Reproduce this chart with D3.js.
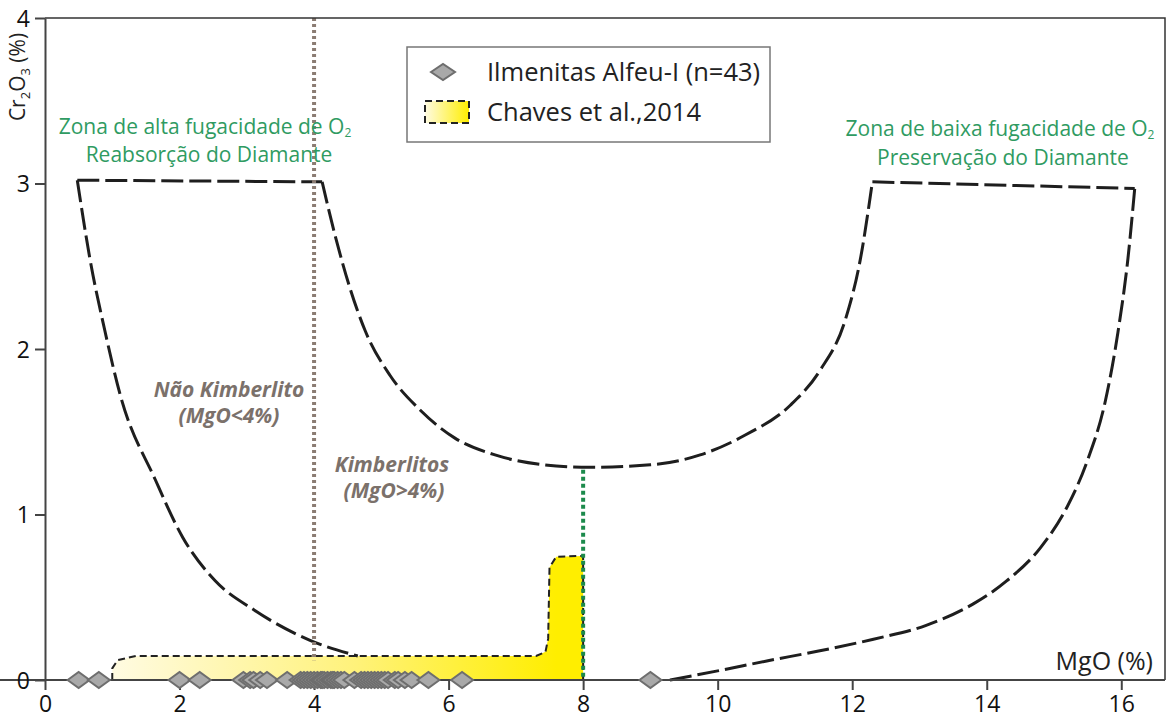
<!DOCTYPE html>
<html>
<head>
<meta charset="utf-8">
<script src="https://cdn.jsdelivr.net/npm/d3@7"></script>
<style>
  body { margin: 0; background: #fff; }
  text { font-family: "Open Sans", sans-serif; }
</style>
</head>
<body>
<div id="chart"></div>
<script>
// data (MgO %, Cr2O3 %)
var xTicks = [0, 2, 4, 6, 8, 10, 12, 14, 16];
var yTicks = [0, 1, 2, 3, 4];

var ilmenitas = [0.5, 0.8, 2.0, 2.3, 2.95, 3.05, 3.1, 3.2, 3.3, 3.6, 3.8, 3.85, 3.9, 3.95,
  4.0, 4.05, 4.1, 4.12, 4.15, 4.2, 4.25, 4.28, 4.3, 4.35, 4.4, 4.45, 4.6, 4.7, 4.75, 4.8,
  4.85, 4.9, 4.95, 5.0, 5.05, 5.1, 5.2, 5.25, 5.35, 5.45, 5.7, 6.2, 9.0];

var leftCurve = [[0.48,3.02],[0.67,2.54],[0.89,2.11],[1.12,1.72],[1.64,1.21],[2.05,0.86],
  [2.53,0.6],[3.12,0.42],[3.94,0.24],[4.65,0.145]];
var topLeft = [[0.48,3.02],[4.12,3.01]];
var uCurve = [[4.12,3.01],[4.31,2.69],[4.54,2.36],[4.76,2.11],[5.13,1.84],[5.58,1.63],
  [6.1,1.46],[6.69,1.36],[7.43,1.3],[8.1,1.285],[9.0,1.3],[9.74,1.36],[10.41,1.48],
  [11.08,1.66],[11.52,1.87],[11.9,2.18],[12.12,2.54],[12.3,3.01]];
var topRight = [[12.3,3.01],[16.2,2.97]];
var rightCurve = [[9.29,0],[10.0,0.055],[10.73,0.115],[11.5,0.175],[12.3,0.245],[13.1,0.33],
  [13.8,0.46],[14.3,0.6],[14.8,0.8],[15.2,1.05],[15.5,1.33],[15.76,1.68],[15.95,2.1],
  [16.1,2.55],[16.2,2.97]];

var chaves = [[1.0,0],[1.0,0.07],[1.08,0.12],[1.35,0.145],[7.3,0.145],[7.44,0.17],[7.48,0.25],
  [7.5,0.68],[7.6,0.745],[8.0,0.75],[8.0,0]];

var width = 1169, height = 728;
var x = d3.scaleLinear().domain([0, 16.65]).range([45, 1165]);
var y = d3.scaleLinear().domain([0, 4]).range([680, 18]);

var svg = d3.select("#chart").append("svg")
  .attr("width", width)
  .attr("height", height);

var defs = svg.append("defs");
var grad = defs.append("linearGradient")
  .attr("id", "yel")
  .attr("gradientUnits", "userSpaceOnUse")
  .attr("x1", x(1)).attr("x2", x(7.6)).attr("y1", 0).attr("y2", 0);
grad.append("stop").attr("offset", 0).attr("stop-color", "#fffbe2");
grad.append("stop").attr("offset", 0.55).attr("stop-color", "#fff27a");
grad.append("stop").attr("offset", 1).attr("stop-color", "#ffee00");

var grad2 = defs.append("linearGradient").attr("id", "yel2");
grad2.append("stop").attr("offset", 0).attr("stop-color", "#fffbe2");
grad2.append("stop").attr("offset", 1).attr("stop-color", "#ffee00");

var line = d3.line().x(function(d){return x(d[0])}).y(function(d){return y(d[1])});
var smooth = d3.line().curve(d3.curveMonotoneX)
  .x(function(d){return x(d[0])}).y(function(d){return y(d[1])});

// yellow field
svg.append("path")
  .attr("d", line(chaves) + "Z")
  .attr("fill", "url(#yel)")
  .attr("stroke", "#222")
  .attr("stroke-width", 2)
  .attr("stroke-dasharray", "7,4");

// boundary curves
[leftCurve, topLeft, uCurve, topRight, rightCurve].forEach(function(seg){
  svg.append("path")
    .attr("d", smooth(seg))
    .attr("fill", "none")
    .attr("stroke", "#1e1e1e")
    .attr("stroke-width", 3)
    .attr("stroke-dasharray", "22,6");
});

// dotted verticals
svg.append("line")
  .attr("x1", x(4)).attr("x2", x(4))
  .attr("y1", y(4)).attr("y2", y(0.12))
  .attr("stroke", "#8b7c73")
  .attr("stroke-width", 4)
  .attr("stroke-dasharray", "3,3");

svg.append("line")
  .attr("x1", x(8)).attr("x2", x(8))
  .attr("y1", y(1.27)).attr("y2", y(0))
  .attr("stroke", "#1c8a4c")
  .attr("stroke-width", 4)
  .attr("stroke-dasharray", "4,3");

// frame + axes
svg.append("path")
  .attr("d", "M" + x(0) + "," + y(4) + "H" + x.range()[1] + "V" + y(0))
  .attr("fill", "none")
  .attr("stroke", "#333")
  .attr("stroke-width", 1.5);

var xAxis = svg.append("g")
  .attr("transform", "translate(0," + y(0) + ")")
  .call(d3.axisBottom(x).tickValues(xTicks).tickSize(10).tickPadding(6).tickSizeOuter(0)
    .tickFormat(d3.format("d")));
var yAxis = svg.append("g")
  .attr("transform", "translate(" + x(0) + ",0)")
  .call(d3.axisLeft(y).tickValues(yTicks).tickSize(10).tickPadding(5).tickSizeOuter(0)
    .tickFormat(d3.format("d")));

[xAxis, yAxis].forEach(function(a){
  a.select(".domain").attr("stroke", "#444").attr("stroke-width", 2);
  a.selectAll(".tick line").attr("stroke", "#444").attr("stroke-width", 2);
  a.selectAll(".tick text")
    .attr("font-family", "Open Sans, sans-serif")
    .attr("font-size", 23)
    .attr("fill", "#111");
});
xAxis.select(".domain").attr("d", "M0,0H" + x.range()[1]);
yAxis.selectAll(".tick text").attr("dy", "0.36em");

// diamonds
svg.append("g").selectAll("path")
  .data(ilmenitas)
  .enter().append("path")
  .attr("d", "M-11,0L0,-8L11,0L0,8Z")
  .attr("transform", function(d){return "translate(" + x(d) + "," + y(0) + ")"})
  .attr("fill", "#a9a9a9")
  .attr("stroke", "#6e6e6e")
  .attr("stroke-width", 2);

// axis titles
svg.append("text")
  .attr("transform", "translate(25,77) rotate(-90)")
  .attr("text-anchor", "middle")
  .attr("font-size", 21)
  .attr("fill", "#222")
  .html('Cr<tspan font-size="13" dy="5">2</tspan><tspan dy="-5">O</tspan><tspan font-size="13" dy="5">3</tspan><tspan dy="-5"> (%)</tspan>');

svg.append("text")
  .attr("x", 1153).attr("y", 670)
  .attr("text-anchor", "end")
  .attr("font-size", 25)
  .attr("fill", "#222")
  .text("MgO (%)");

// zone labels
var green = "#2f9b62";
function o2label(cx, yy, txt) {
  svg.append("text")
    .attr("x", cx).attr("y", yy)
    .attr("text-anchor", "middle")
    .attr("font-size", 21)
    .attr("fill", green)
    .html(txt + ' O<tspan font-size="12" dy="3">2</tspan>');
}
o2label(205, 134, "Zona de alta fugacidade de");
o2label(1000, 136, "Zona de baixa fugacidade de");
svg.append("text").attr("x", 209).attr("y", 162).attr("text-anchor", "middle")
  .attr("font-size", 21).attr("fill", green).text("Reabsorção do Diamante");
svg.append("text").attr("x", 1003).attr("y", 165).attr("text-anchor", "middle")
  .attr("font-size", 21).attr("fill", green).text("Preservação do Diamante");

var grey = "#7b716b";
[["Não Kimberlito", 229, 397], ["(MgO<4%)", 229, 423], ["Kimberlitos", 392, 472], ["(MgO>4%)", 394, 498]]
  .forEach(function(t){
    svg.append("text")
      .attr("x", t[1]).attr("y", t[2])
      .attr("text-anchor", "middle")
      .attr("font-size", 21)
      .attr("font-weight", "bold")
      .attr("font-style", "italic")
      .attr("fill", grey)
      .text(t[0]);
  });

// legend
var legend = svg.append("g").attr("transform", "translate(407,47)");
legend.append("rect")
  .attr("width", 363).attr("height", 95)
  .attr("fill", "#fff")
  .attr("stroke", "#777")
  .attr("stroke-width", 1.5);
legend.append("path")
  .attr("d", "M-12,0L0,-8L12,0L0,8Z")
  .attr("transform", "translate(36,25)")
  .attr("fill", "#a9a9a9")
  .attr("stroke", "#6e6e6e")
  .attr("stroke-width", 2);
legend.append("text")
  .attr("x", 80).attr("y", 34)
  .attr("font-size", 25.5)
  .attr("fill", "#222")
  .text("Ilmenitas Alfeu-I (n=43)");
legend.append("rect")
  .attr("x", 18).attr("y", 54).attr("width", 44).attr("height", 22)
  .attr("fill", "url(#yel2)")
  .attr("stroke", "#222")
  .attr("stroke-width", 2)
  .attr("stroke-dasharray", "7,4");
legend.append("text")
  .attr("x", 80).attr("y", 74)
  .attr("font-size", 25.5)
  .attr("fill", "#222")
  .text("Chaves et al.,2014");
</script>
</body>
</html>
